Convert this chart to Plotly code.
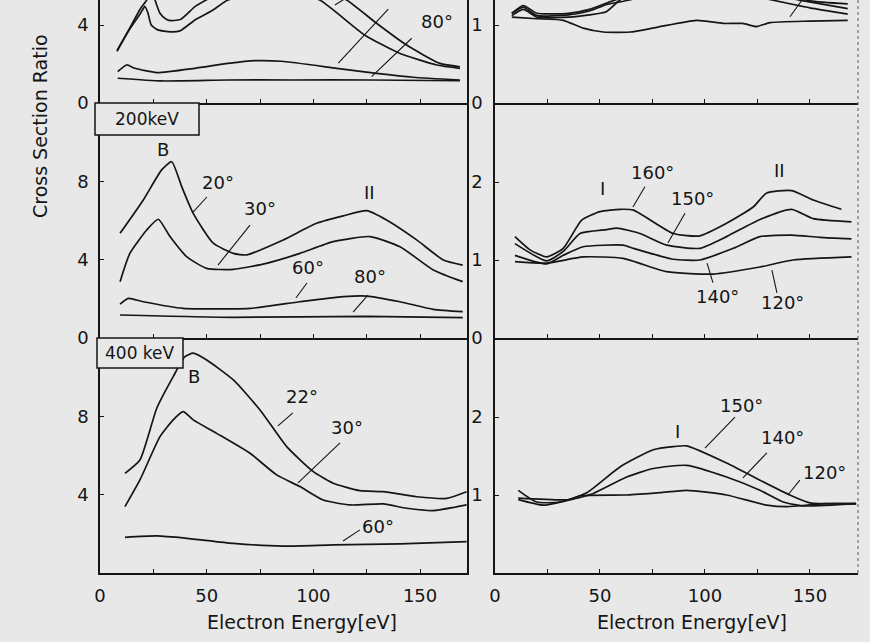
import plotly.graph_objects as go

INK = "#151515"
BG = "#e8e8e8"
FONT = "DejaVu Sans"
W, H = 870, 642

# ---------------- data ----------------
# top-left panel (cropped)
tl_E20 = [8, 14, 19, 22, 24, 25.8, 28.1, 31, 33.6, 38, 44.5, 50, 60, 80, 100, 115.6, 129.6, 143.7, 159.3, 168.7]
tl_v20 = [2.7, 3.85, 4.85, 5.3, 6.0, 5.28, 4.6, 4.3, 4.22, 4.3, 4.94, 5.3, 5.9, 6.5, 6.1, 5.28, 4.09, 2.97, 2.03, 1.86]
tl_E30 = [8, 14, 19, 21, 22.5, 24, 27, 33, 37.5, 44.5, 52, 60, 75, 90, 103, 124, 139.8, 157.8, 168.7]
tl_v30 = [2.65, 3.8, 4.6, 4.95, 4.6, 4.0, 3.75, 3.65, 3.7, 4.26, 4.7, 5.28, 5.7, 5.7, 5.28, 3.49, 2.58, 1.95, 1.78]
tl_E60 = [8.3, 12.5, 16.4, 26.6, 44.5, 60, 72.6, 85, 111, 129.6, 146.8, 168.7]
tl_v60 = [1.61, 1.95, 1.78, 1.56, 1.78, 2.03, 2.17, 2.14, 1.78, 1.52, 1.32, 1.18]
tl_E80 = [8.3, 28.9, 60, 90, 126.5, 168.7]
tl_v80 = [1.27, 1.13, 1.18, 1.18, 1.18, 1.14]

# top-right panel (cropped)
tr_E120 = [8, 20, 32.5, 42, 51.6, 64.3, 77, 96, 108.7, 118, 124.6, 131, 150, 168]
tr_v120 = [1.1, 1.08, 1.06, 0.96, 0.91, 0.91, 0.97, 1.06, 1.02, 1.02, 0.98, 1.03, 1.05, 1.06]
tr_E140 = [8, 13.5, 20, 35, 45, 53, 59.5, 70, 90, 110, 132, 150, 168]
tr_v140 = [1.12, 1.2, 1.1, 1.1, 1.13, 1.17, 1.32, 1.45, 1.5, 1.45, 1.32, 1.22, 1.14]
tr_E150 = [8, 13.5, 20, 35, 45, 53, 64, 80, 100, 120, 145, 168]
tr_v150 = [1.15, 1.23, 1.12, 1.13, 1.18, 1.26, 1.32, 1.45, 1.5, 1.45, 1.32, 1.21]
tr_E160 = [8, 13.5, 20, 35, 45, 55, 62, 80, 100, 120, 140, 150, 168]
tr_v160 = [1.15, 1.25, 1.15, 1.15, 1.2, 1.3, 1.36, 1.5, 1.55, 1.5, 1.38, 1.31, 1.27]

# middle-left panel, 200 keV
ml_E20 = [9.4, 20.3, 28.9, 33.6, 38.3, 43.7, 53.1, 62.5, 68.7, 85.9, 101.5, 114, 125, 134.3, 148.4, 160.9, 170]
ml_v20 = [5.37, 7.08, 8.62, 9.04, 7.76, 6.39, 4.86, 4.34, 4.26, 5.03, 5.88, 6.26, 6.53, 6.05, 5.03, 4.0, 3.74]
ml_E30 = [9.4, 14, 21.9, 27.3, 32.8, 40.6, 50, 62.5, 78, 93.7, 109.3, 126.5, 140.6, 156.2, 170]
ml_v30 = [2.89, 4.34, 5.54, 6.09, 5.2, 4.17, 3.57, 3.52, 3.83, 4.34, 4.94, 5.2, 4.68, 3.49, 2.89]
ml_E60 = [9.4, 13.3, 20.3, 39, 70.3, 93.7, 114, 125, 140.6, 156.2, 170]
ml_v60 = [1.74, 2.03, 1.86, 1.52, 1.52, 1.86, 2.12, 2.15, 1.86, 1.47, 1.35]
ml_E80 = [9.4, 62.5, 125, 170]
ml_v80 = [1.18, 1.06, 1.11, 1.04]

# middle-right panel
mr_E160 = [9.5, 16.7, 24.6, 32.5, 41.3, 50, 59.5, 65.9, 84.9, 97.6, 110.3, 123, 129.4, 141.3, 151.6, 165]
mr_v160 = [1.3, 1.13, 1.04, 1.15, 1.51, 1.62, 1.65, 1.64, 1.34, 1.31, 1.47, 1.68, 1.86, 1.89, 1.77, 1.65]
mr_E150 = [9.5, 24.6, 32.5, 40.5, 53.2, 58, 69, 81.8, 97.6, 110.3, 126.2, 141.3, 151.6, 169.8]
mr_v150 = [1.21, 0.99, 1.11, 1.34, 1.39, 1.41, 1.34, 1.19, 1.15, 1.3, 1.52, 1.65, 1.53, 1.49]
mr_E140 = [9.5, 24.6, 32.5, 42, 61, 65.9, 84.9, 97.6, 113.5, 126.2, 141.3, 154.8, 169.8]
mr_v140 = [1.06, 0.95, 1.06, 1.17, 1.19, 1.15, 1.01, 1.0, 1.15, 1.3, 1.32, 1.29, 1.27]
mr_E120 = [9.5, 24.6, 42, 61, 81.8, 104, 126.2, 142, 169.8]
mr_v120 = [0.98, 0.96, 1.04, 1.02, 0.85, 0.82, 0.91, 1.0, 1.04]

# bottom-left panel, 400 keV
bl_E22 = [11.7, 18.7, 26.6, 34.3, 39.8, 43.7, 50, 62.5, 75, 87.5, 100, 109.3, 121.8, 132.8, 148.4, 162.5, 171.8]
bl_v22 = [5.11, 5.79, 8.45, 10.07, 11.09, 11.27, 10.92, 9.9, 8.36, 6.48, 5.2, 4.6, 4.22, 4.17, 3.91, 3.83, 4.17]
bl_E30 = [11.7, 18.7, 28.1, 34.3, 39, 43.7, 54.7, 70.3, 82.8, 93.7, 104.6, 117.2, 132.8, 143.7, 156.2, 171.8]
bl_v30 = [3.4, 4.77, 6.99, 7.85, 8.27, 7.85, 7.16, 6.14, 5.03, 4.43, 3.74, 3.49, 3.54, 3.32, 3.2, 3.49]
bl_E60 = [11.7, 26.6, 40.6, 62.5, 85.9, 109.3, 140.6, 171.8]
bl_v60 = [1.83, 1.9, 1.78, 1.52, 1.38, 1.44, 1.49, 1.61]

# bottom-right panel
br_E150 = [11.1, 19.8, 31, 43.7, 59.5, 75.4, 84.9, 91.3, 110.3, 126.2, 140.5, 150, 172]
br_v150 = [1.06, 0.91, 0.91, 1.03, 1.36, 1.58, 1.62, 1.63, 1.41, 1.19, 1.0, 0.9, 0.89]
br_E140 = [11.1, 35.7, 46.8, 62.7, 75.4, 91.3, 110.3, 126.2, 137.3, 147, 172]
br_v140 = [0.96, 0.94, 1.02, 1.23, 1.34, 1.38, 1.23, 1.06, 0.91, 0.86, 0.89]
br_E120 = [11.1, 23, 35.7, 40.5, 62.7, 78.6, 91.3, 110.3, 129.4, 139, 157, 172]
br_v120 = [0.94, 0.87, 0.94, 0.99, 1.0, 1.03, 1.06, 1.0, 0.87, 0.85, 0.89, 0.89]

x_ticks = [0, 25, 50, 75, 100, 125, 150]
x_ticktext = ["0", "", "50", "", "100", "", "150"]

# ---------------- figure ----------------
fig = go.Figure()

def ax(n, kind):
    return kind if n == 1 else f"{kind}{n}"

def curve(E, v, n):
    fig.add_trace(go.Scatter(
        x=E, y=v, xaxis=ax(n, "x"), yaxis=ax(n, "y"), mode="lines",
        line=dict(color=INK, width=1.7, shape="spline", smoothing=0.55),
        hoverinfo="skip", showlegend=False))

for E, v in [(tl_E20, tl_v20), (tl_E30, tl_v30), (tl_E60, tl_v60), (tl_E80, tl_v80)]:
    curve(E, v, 1)
for E, v in [(tr_E120, tr_v120), (tr_E140, tr_v140), (tr_E150, tr_v150), (tr_E160, tr_v160)]:
    curve(E, v, 2)
for E, v in [(ml_E20, ml_v20), (ml_E30, ml_v30), (ml_E60, ml_v60), (ml_E80, ml_v80)]:
    curve(E, v, 3)
for E, v in [(mr_E160, mr_v160), (mr_E150, mr_v150), (mr_E140, mr_v140), (mr_E120, mr_v120)]:
    curve(E, v, 4)
for E, v in [(bl_E22, bl_v22), (bl_E30, bl_v30), (bl_E60, bl_v60)]:
    curve(E, v, 5)
for E, v in [(br_E150, br_v150), (br_E140, br_v140), (br_E120, br_v120)]:
    curve(E, v, 6)

left_dom = [100 / W, 467 / W]
right_dom = [495 / W, 858 / W]
rows = {"top": [1 - 103 / H, 1.0], "mid": [1 - 338 / H, 1 - 103 / H], "bot": [1 - 573 / H, 1 - 338 / H]}
left_xr = [0, 172]
right_xr = [0, 172.9]
ranges_y = {1: [0, 5.282], 2: [0, 1.3205], 3: [0, 12.05], 4: [0, 3.013], 5: [0, 12.05], 6: [0, 3.013]}
yticks = {1: [0, 4], 2: [0, 1], 3: [0, 4, 8], 4: [0, 1, 2], 5: [4, 8], 6: [1, 2]}
panel = {1: ("L", "top"), 2: ("R", "top"), 3: ("L", "mid"), 4: ("R", "mid"), 5: ("L", "bot"), 6: ("R", "bot")}

tickfont = dict(family=FONT, size=18, color=INK)
layout_axes = {}
for n, (col, row) in panel.items():
    xa = dict(domain=left_dom if col == "L" else right_dom,
              range=left_xr if col == "L" else right_xr,
              anchor=ax(n, "y"), showline=True, linecolor=INK, linewidth=1.6,
              ticks="inside", ticklen=4, tickwidth=1.2, tickcolor=INK,
              tickvals=x_ticks, ticktext=x_ticktext,
              showticklabels=(row == "bot"), tickfont=tickfont,
              ticklabelstandoff=6, automargin=False,
              showgrid=False, zeroline=False, fixedrange=True)
    ya = dict(domain=rows[row], range=ranges_y[n], anchor=ax(n, "x"),
              showline=True, linecolor=INK, linewidth=1.6,
              mirror=(col == "L"),
              ticks="inside", ticklen=4, tickwidth=1.2, tickcolor=INK,
              tickvals=yticks[n], tickfont=tickfont,
              ticklabelstandoff=6 if col == "L" else 7, automargin=False,
              showgrid=False, zeroline=False, fixedrange=True)
    layout_axes["xaxis" if n == 1 else f"xaxis{n}"] = xa
    layout_axes["yaxis" if n == 1 else f"yaxis{n}"] = ya

fig.update_layout(**layout_axes)

# ---------------- labels ----------------
lab_font = dict(family=FONT, size=18, color=INK)
labels = [
    # (panel, E, v, text)
    (1, 157.8, 4.17, "80°"),
    (3, 29.5, 9.64, "B"), (3, 55.3, 7.95, "20°"), (3, 75, 6.62, "30°"),
    (3, 126.5, 7.44, "II"), (3, 97.5, 3.64, "60°"), (3, 126.5, 3.13, "80°"),
    (5, 44, 10.05, "B"), (5, 94.7, 9.03, "22°"), (5, 115.7, 7.44, "30°"), (5, 130.3, 2.36, "60°"),
    (4, 51.4, 1.92, "I"), (4, 74.8, 2.12, "160°"), (4, 94.3, 1.79, "150°"),
    (4, 135.7, 2.15, "II"), (4, 106.2, 0.53, "140°"), (4, 137.1, 0.45, "120°"),
    (6, 86.7, 1.81, "I"), (6, 117.6, 2.15, "150°"), (6, 137.1, 1.74, "140°"), (6, 157.1, 1.29, "120°"),
]
annotations = []
for n, E, v, t in labels:
    annotations.append(dict(x=E, y=v, xref=ax(n, "x"), yref=ax(n, "y"), text=t,
                            xanchor="center", yanchor="middle",
                            showarrow=False, font=lab_font))

leaders = [
    (1, 111.7, 2.04, 135.1, 4.81), (1, 127.3, 1.35, 146.1, 3.32), (1, 110.1, 5.03, 115.6, 5.4),
    (2, 140.5, 1.106, 146.5, 1.33),
    (3, 43.6, 6.46, 50.1, 7.23), (3, 55.3, 3.74, 70.3, 5.79), (3, 91.8, 2.05, 97.0, 2.82), (3, 118.6, 1.33, 125.6, 2.2),
    (5, 83.4, 7.54, 90.4, 8.21), (5, 92.8, 4.62, 112.5, 6.67), (5, 113.9, 1.64, 121.8, 2.21),
    (4, 65.7, 1.68, 71.4, 1.94), (4, 82.4, 1.22, 90.5, 1.6), (4, 101.0, 0.96, 103.8, 0.71), (4, 131.9, 0.87, 134.3, 0.58),
    (6, 100.0, 1.6, 114.3, 2.0), (6, 118.1, 1.22, 129.5, 1.54), (6, 139.5, 1.0, 145.2, 1.19),
]
shapes = []
for n, x0, y0, x1, y1 in leaders:
    shapes.append(dict(type="line", xref=ax(n, "x"), yref=ax(n, "y"), x0=x0, y0=y0, x1=x1, y1=y1,
                       line=dict(color=INK, width=1.1)))

# energy boxes
for (x0, y0, x1, y1, t) in [(95, 103, 199, 135, "200keV"), (97, 338, 183, 368, "400 keV")]:
    shapes.append(dict(type="rect", xref="paper", yref="paper",
                       x0=x0 / W, x1=x1 / W, y0=1 - y1 / H, y1=1 - y0 / H,
                       line=dict(color=INK, width=1.5), fillcolor=BG))
    annotations.append(dict(x=(x0 + x1) / 2 / W, y=1 - (y0 + y1) / 2 / H, xref="paper", yref="paper",
                            xanchor="center", yanchor="middle",
                            text=t, showarrow=False, font=dict(family=FONT, size=17, color=INK)))

# dotted right border of the right column
shapes.append(dict(type="line", xref="paper", yref="paper", x0=858 / W, x1=858 / W,
                   y0=1 - 573 / H, y1=1, line=dict(color="#555555", width=1, dash="dot")))

# axis titles
annotations.append(dict(x=40 / W, y=1 - 126 / H, xref="paper", yref="paper", text="Cross Section Ratio",
                        xanchor="center", yanchor="middle",
                        textangle=-90, showarrow=False, font=dict(family=FONT, size=19, color=INK)))
for cx in (302, 692):
    annotations.append(dict(x=cx / W, y=1 - 622 / H, xref="paper", yref="paper", text="Electron Energy[eV]",
                            xanchor="center", yanchor="middle",
                            showarrow=False, font=dict(family=FONT, size=19, color=INK)))

fig.update_layout(width=W, height=H, margin=dict(l=0, r=0, t=0, b=0, autoexpand=False),
                  paper_bgcolor=BG, plot_bgcolor=BG, showlegend=False,
                  annotations=annotations, shapes=shapes)

fig.write_html("out.html", config={"displayModeBar": False},
               post_script="document.body.style.margin='0px';document.body.style.background='%s';" % BG)
